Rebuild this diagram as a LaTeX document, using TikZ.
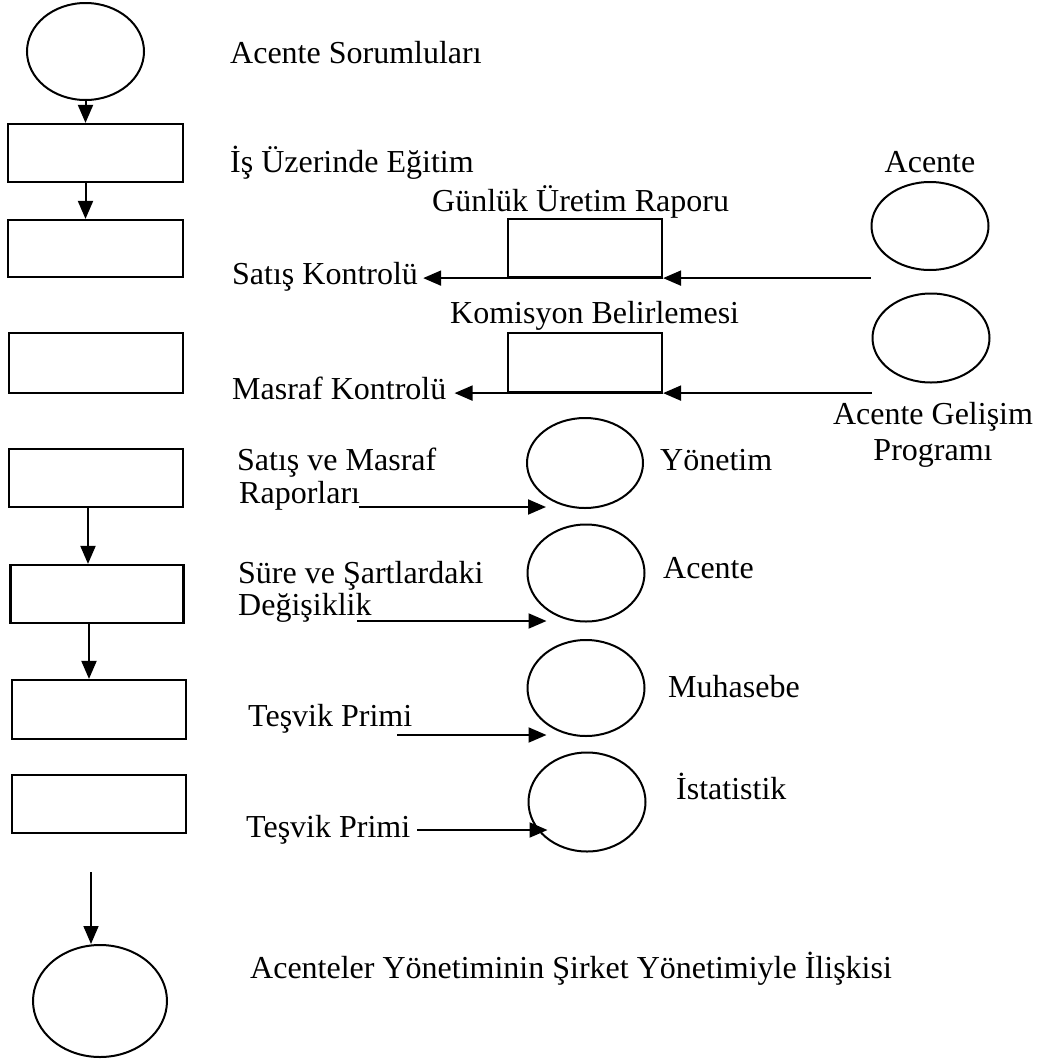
\documentclass[tikz,border=0pt]{standalone}
\usepackage{fontspec}
\setmainfont{Liberation Serif}
\usetikzlibrary{shapes.geometric,arrows.meta,calc}

\begin{document}
\begin{tikzpicture}[x=1pt,y=-1pt,
  every node/.style={font=\fontsize{32}{36}\selectfont},
  oval/.style={draw, ellipse, line width=2pt, inner sep=0pt},
  box/.style={draw, rectangle, line width=2.2pt, inner sep=0pt},
  lbl/.style={anchor=base west, inner sep=0pt},
  lblc/.style={anchor=base, inner sep=0pt},
  arr/.style={line width=2pt, -{Triangle[length=18pt,width=15pt]}},
  thinarr/.style={line width=1.6pt, -{Triangle[length=18pt,width=15pt]}},
]
\useasboundingbox (0,0) rectangle (1043,1063);

% left column: start, process boxes, end
\node[oval, minimum width=117pt, minimum height=97pt] (e0) at (85.5,51.5) {};
\node[box, minimum width=175pt, minimum height=58pt] (b1) at (95.5,153) {};
\node[box, minimum width=175pt, minimum height=57pt] (b2) at (95.5,248.5) {};
\node[box, minimum width=174pt, minimum height=60pt] (b3) at (96,363) {};
\node[box, minimum width=174pt, minimum height=58pt] (b4) at (96,478) {};
\node[box, minimum width=173pt, minimum height=58pt] (b5) at (97,594) {};
\node[box, minimum width=174pt, minimum height=59pt] (b6) at (99,709.5) {};
\node[box, minimum width=174pt, minimum height=58pt] (b7) at (99,804) {};
\node[oval, minimum width=134pt, minimum height=112pt] (e9) at (100,1001) {};

% right-hand reports and receivers
\node[box, minimum width=154pt, minimum height=58pt] (g1) at (585,248) {};
\node[box, minimum width=154pt, minimum height=59pt] (g2) at (585,362.5) {};
\node[oval, minimum width=117pt, minimum height=88pt] (A1) at (930,226) {};
\node[oval, minimum width=117pt, minimum height=89pt] (A2) at (931,338) {};
\node[oval, minimum width=116pt, minimum height=90pt] (Y) at (585,463) {};
\node[oval, minimum width=117pt, minimum height=97pt] (Ac) at (586,573) {};
\node[oval, minimum width=117pt, minimum height=96pt] (M) at (586,688) {};
\node[oval, minimum width=117pt, minimum height=99pt] (I) at (587,802) {};

% labels
\node[lbl] (t0) at (230,63) {Acente Sorumluları};
\node[lbl] (t1) at (230,172) {İş Üzerinde Eğitim};
\node[lbl] (t2) at (432,211) {Günlük Üretim Raporu};
\node[lbl] (satis) at (232,284) {Satış Kontrolü};
\node[lbl] (t3) at (450,323) {Komisyon Belirlemesi};
\node[lbl] (masraf) at (232,399) {Masraf Kontrolü};
\node[lblc] (t4) at (930,172) {Acente};
\node[lblc] (gel1) at (933,424) {Acente Gelişim};
\node[lblc] (gel2) at (933,460) {Programı};
\node[lbl] (sm1) at (237,470) {Satış ve Masraf};
\node[lbl] (sm2) at (239,503) {Raporları};
\node[lbl] (ss1) at (238,583) {Süre ve Şartlardaki};
\node[lbl] (ss2) at (238,615) {Değişiklik};
\node[lbl] (tp1) at (248,726) {Teşvik Primi};
\node[lbl] (tp2) at (246,837) {Teşvik Primi};
\node[lbl] (t5) at (250,978) {Acenteler Yönetiminin Şirket Yönetimiyle İlişkisi};
\node[lbl] (t6) at (660,470) {Yönetim};
\node[lbl] (t7) at (663,578) {Acente};
\node[lbl] (t8) at (668,697) {Muhasebe};
\node[lbl] (t9) at (676,799) {İstatistik};

% flow down the left column
\draw[arr] (e0.south) -- (e0.south |- b1.north);
\draw[arr] (b1.south -| e0.south) -- (b2.north -| e0.south);
\draw[arr] ([xshift=-8pt]b4.south) -- ([xshift=-8pt]b4.south |- b5.north);
\draw[arr] ([xshift=-8pt]b5.south) -- ([xshift=-8pt]b5.south |- b6.north);
\coordinate (s0) at (91,872);
\draw[thinarr] (s0) -- (s0 |- e9.north);

% agent inputs through the report boxes
\draw[arr] (A1.west |- g1.south) -- (g1.south east);
\draw[arr] (g1.south east) -- ([xshift=5pt]satis.east |- g1.south);
\draw[arr] (A2.west |- g2.south) -- (g2.south east);
\draw[arr] (g2.south east) -- ([xshift=8pt]masraf.east |- g2.south);

% outputs to the receiving units
\coordinate (r1) at (359,507);
\coordinate (r2) at (357,621);
\coordinate (r3) at (397,735);
\coordinate (r4) at (417,830);
\draw[arr] (r1) -- ([xshift=20pt]Y.west |- r1);
\draw[arr] (r2) -- ([xshift=20pt]Ac.west |- r2);
\draw[arr] (r3) -- ([xshift=20pt]M.west |- r3);
\draw[arr] (r4) -- ([xshift=20pt]I.west |- r4);
\end{tikzpicture}
\end{document}
